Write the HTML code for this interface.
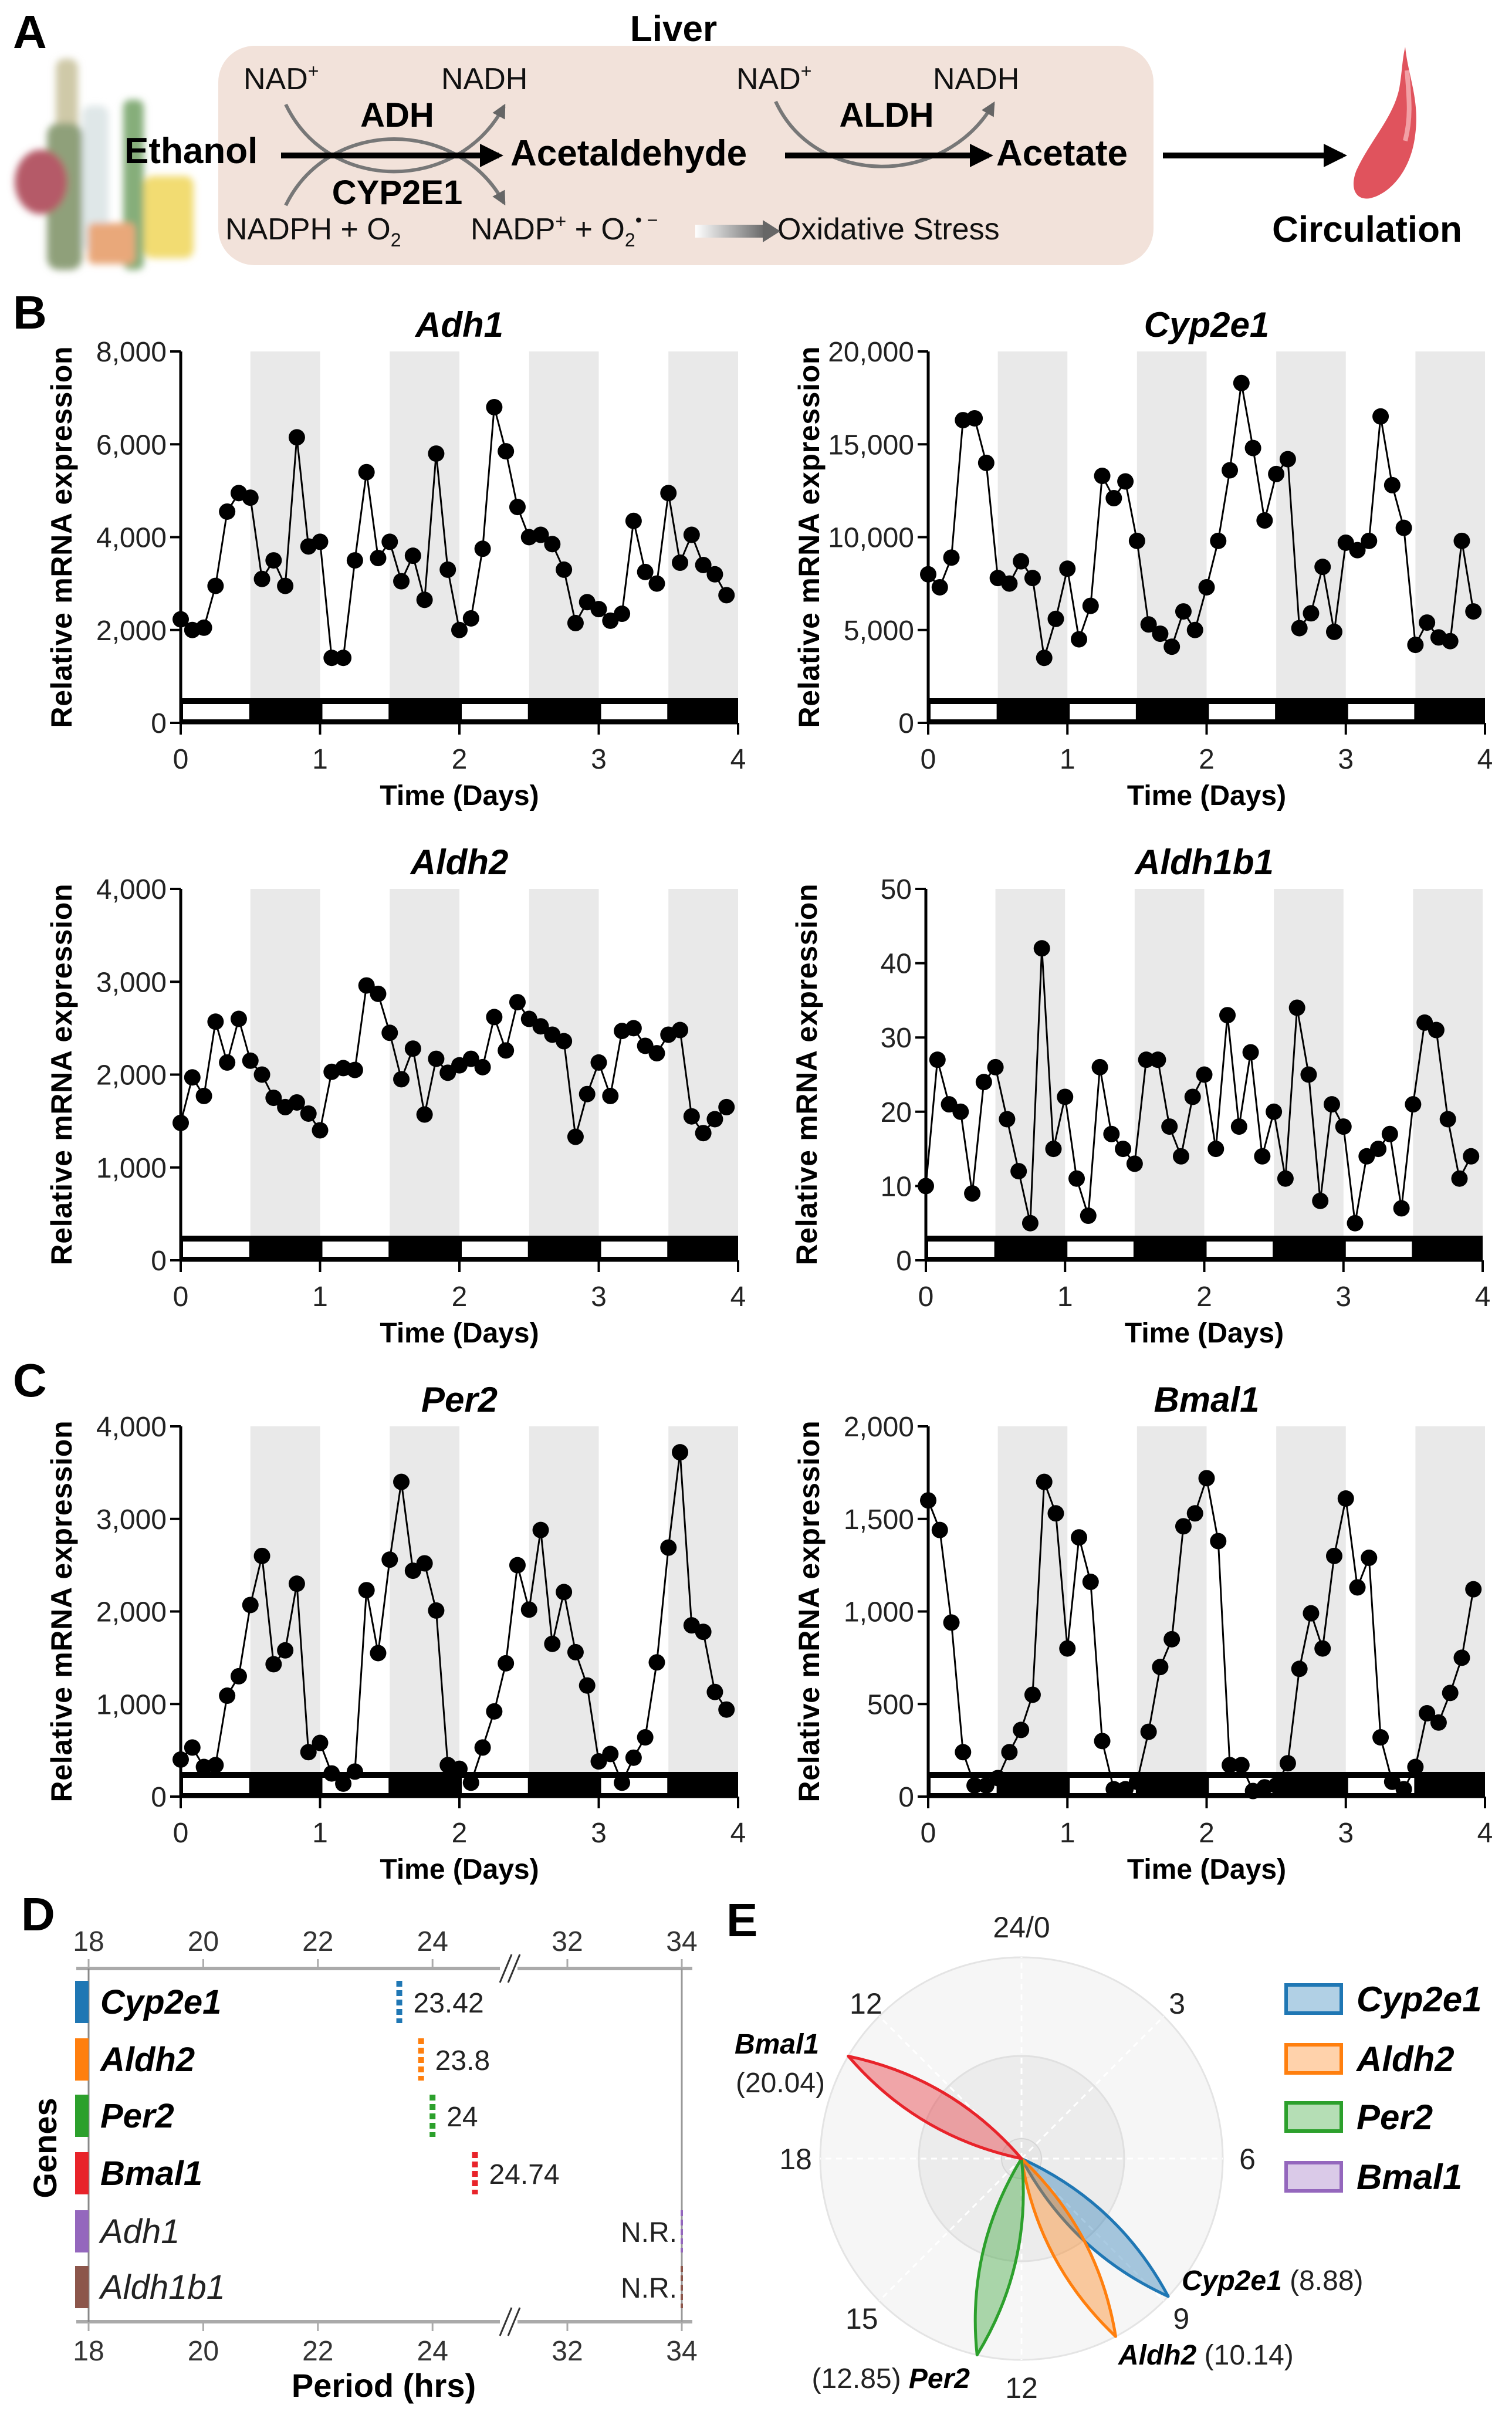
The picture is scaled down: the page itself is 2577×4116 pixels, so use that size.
<!DOCTYPE html>
<html><head><meta charset="utf-8"><style>
html,body{margin:0;padding:0;background:#fff;}
svg{display:block;font-family:"Liberation Sans",Arial,sans-serif;}
</style></head><body>
<svg id="fig" xmlns="http://www.w3.org/2000/svg" width="2577" height="4116" viewBox="0 0 2577 4116">
<defs>
<linearGradient id="gArr" x1="0" x2="1"><stop offset="0" stop-color="#fff"/><stop offset="1" stop-color="#666"/></linearGradient>
<filter id="blur"><feGaussianBlur stdDeviation="6"/></filter>
<marker id="ah" viewBox="0 0 10 10" refX="8" refY="5" markerWidth="4" markerHeight="4" orient="auto"><path d="M0,0 L10,5 L0,10 z" fill="#000"/></marker>
<marker id="ahg" viewBox="0 0 10 10" refX="8" refY="5" markerWidth="4" markerHeight="4" orient="auto"><path d="M0,0 L10,5 L0,10 z" fill="#666"/></marker>
</defs>

<!-- Panel A -->
<g>
<text x="22" y="82" font-size="80" font-weight="bold">A</text>
<g filter="url(#blur)">
<rect x="95" y="100" width="38" height="300" rx="15" fill="#cfc9a8"/>
<rect x="80" y="210" width="60" height="250" rx="20" fill="#8fa07a"/>
<rect x="140" y="180" width="45" height="250" rx="15" fill="#dfe7e8"/>
<rect x="210" y="170" width="35" height="290" rx="12" fill="#86ae7a"/>
<ellipse cx="70" cy="310" rx="45" ry="55" fill="#b55a68"/>
<rect x="245" y="300" width="85" height="140" rx="15" fill="#f2dc72"/>
<rect x="150" y="380" width="80" height="70" rx="10" fill="#e9a87a"/>
</g>
<rect x="372" y="78" width="1594" height="374" rx="62" fill="#f2e2da"/>
<text x="1148" y="70" font-size="62" font-weight="bold" text-anchor="middle">Liver</text>
<g font-size="52" fill="#111">
<text x="415" y="152">NAD<tspan font-size="32" dy="-20">+</tspan></text>
<text x="752" y="152">NADH</text>
<text x="1255" y="152">NAD<tspan font-size="32" dy="-20">+</tspan></text>
<text x="1590" y="152">NADH</text>
<text x="384" y="408">NADPH + O<tspan font-size="32" dy="12">2</tspan></text>
<text x="802" y="408">NADP<tspan font-size="32" dy="-20">+</tspan><tspan dy="20"> + O</tspan><tspan font-size="32" dy="12">2</tspan><tspan font-size="32" dy="-34">• −</tspan></text>
<text x="1325" y="408">Oxidative Stress</text>
</g>
<rect x="1185" y="383" width="120" height="22" fill="url(#gArr)"/>
<path d="M1300,375 L1330,394 L1300,413 z" fill="#666"/>
<path d="M487,178 C560,330 780,330 859,181" fill="none" stroke="#777" stroke-width="6" marker-end="url(#ahg)"/>
<path d="M487,350 C560,200 780,200 859,346" fill="none" stroke="#777" stroke-width="6" marker-end="url(#ahg)"/>
<path d="M1322,173 C1390,320 1610,320 1693,177" fill="none" stroke="#777" stroke-width="6" marker-end="url(#ahg)"/>
<line x1="479" y1="265" x2="850" y2="265" stroke="#000" stroke-width="10" marker-end="url(#ah)"/>
<line x1="1338" y1="265" x2="1685" y2="265" stroke="#000" stroke-width="10" marker-end="url(#ah)"/>
<line x1="1982" y1="265" x2="2288" y2="265" stroke="#000" stroke-width="10" marker-end="url(#ah)"/>
<g font-weight="bold" font-size="62">
<text x="212" y="278">Ethanol</text>
<text x="870" y="282">Acetaldehyde</text>
<text x="1698" y="282">Acetate</text>
<text x="677" y="216" text-anchor="middle" font-size="58">ADH</text>
<text x="1511" y="216" text-anchor="middle" font-size="58">ALDH</text>
<text x="677" y="348" text-anchor="middle" font-size="58">CYP2E1</text>
<text x="2330" y="412" text-anchor="middle">Circulation</text>
</g>
<path d="M2395,80 C2400,130 2420,170 2412,230 C2405,290 2370,330 2335,338 C2310,342 2300,320 2312,290 C2335,240 2375,200 2385,150 C2390,120 2390,100 2395,80 z" fill="#e0535d"/>
<path d="M2398,120 C2402,170 2405,200 2395,240" fill="none" stroke="#f2a0a5" stroke-width="8"/>
</g>

<g id="charts"></g>

<!-- Panel D -->
<g id="panelD"></g>
<!-- Panel E -->
<g id="panelE"></g>
</svg>
<script>
// ---------- time-series data (values every 2 h over 4 days) ----------
const sampleHours = [0,2,4,6,8,10,12,14,16,18,20,22,24,26,28,30,32,34,36,38,40,42,44,46,48,50,52,54,56,58,60,62,64,66,68,70,72,74,76,78,80,82,84,86,88,90,92,94];
const dayTicks = [0,1,2,3,4];
const adh1Values = [2230,2000,2050,2950,4550,4950,4850,3100,3500,2950,6150,3800,3900,1400,1400,3500,5400,3550,3900,3050,3600,2650,5800,3300,2000,2250,3750,6800,5850,4650,4000,4050,3850,3300,2150,2600,2450,2200,2350,4350,3250,3000,4950,3450,4050,3400,3200,2750];
const adh1Ticks = [0,2000,4000,6000,8000];
const cyp2e1Values = [8000,7300,8900,16300,16400,14000,7800,7500,8700,7800,3500,5600,8300,4500,6300,13300,12100,13000,9800,5300,4800,4100,6000,5000,7300,9800,13600,18300,14800,10900,13400,14200,5100,5900,8400,4900,9700,9300,9800,16500,12800,10500,4200,5400,4600,4400,9800,6000];
const cyp2e1Ticks = [0,5000,10000,15000,20000];
const aldh2Values = [1480,1970,1770,2570,2130,2600,2150,2000,1750,1650,1700,1580,1400,2030,2070,2050,2960,2870,2450,1950,2280,1570,2170,2020,2100,2170,2080,2620,2260,2780,2600,2520,2430,2360,1330,1790,2130,1770,2470,2500,2310,2230,2430,2480,1550,1370,1520,1650];
const aldh2Ticks = [0,1000,2000,3000,4000];
const aldh1b1Values = [10,27,21,20,9,24,26,19,12,5,42,15,22,11,6,26,17,15,13,27,27,18,14,22,25,15,33,18,28,14,20,11,34,25,8,21,18,5,14,15,17,7,21,32,31,19,11,14];
const aldh1b1Ticks = [0,10,20,30,40,50];
const per2Values = [400,530,320,340,1090,1300,2070,2600,1430,1580,2300,480,580,250,140,270,2230,1550,2560,3400,2440,2520,2010,340,300,150,530,920,1440,2500,2020,2880,1650,2210,1560,1200,380,460,150,420,640,1450,2690,3720,1850,1780,1130,940];
const per2Ticks = [0,1000,2000,3000,4000];
const bmal1Values = [1600,1440,940,240,60,60,100,240,360,550,1700,1530,800,1400,1160,300,40,40,80,350,700,850,1460,1530,1720,1380,170,170,30,50,60,180,690,990,800,1300,1610,1130,1290,320,80,40,160,450,400,560,750,1120];
const bmal1Ticks = [0,500,1000,1500,2000];

const NS = "http://www.w3.org/2000/svg";
function mk(tag, attrs, parent){ const e=document.createElementNS(NS,tag); for(const k in attrs) e.setAttribute(k,attrs[k]); if(parent) parent.appendChild(e); return e; }
function fmt(v){ return v.toLocaleString('en-US'); }

function drawChart(cfg){
  const g = mk('g',{}, document.getElementById('charts'));
  
  
  const {x0,x4,yT,y0,ymax} = cfg;
  const xs = d => x0 + (d/4)*(x4-x0);
  const ys = v => y0 - (v/ymax)*(y0-yT);
  // night bands
  for (let d=0; d<4; d++){
    const band = mk('rect',{x:xs(d+0.5), y:yT, width:xs(d+1)-xs(d+0.5), height:(y0-40)-yT, fill:'#e9e9e9'}, g);
    
    
  }
  // LD bar
  const ld = mk('rect',{x:x0, y:y0-42, width:x4-x0, height:42, fill:'#000'}, g);
  
  
  for (let d=0; d<4; d++){
    mk('rect',{x:xs(d)+4, y:y0-32, width:xs(d+0.5)-xs(d)-6, height:26, fill:'#fff'}, g);
  }
  // axes
  mk('line',{x1:x0,y1:yT,x2:x0,y2:y0,stroke:'#000','stroke-width':5}, g);
  mk('line',{x1:x0,y1:y0,x2:x4,y2:y0,stroke:'#000','stroke-width':5}, g);
  cfg.ticks.forEach(t=>{
    mk('line',{x1:x0-18,y1:ys(t),x2:x0,y2:ys(t),stroke:'#000','stroke-width':4}, g);
    const tl = mk('text',{x:x0-24,y:ys(t)+17,'font-size':48,'text-anchor':'end',fill:'#222'}, g);
    tl.textContent = fmt(t);
    
    
  });
  dayTicks.forEach(d=>{
    mk('line',{x1:xs(d),y1:y0,x2:xs(d),y2:y0+20,stroke:'#000','stroke-width':4}, g);
    const tl = mk('text',{x:xs(d),y:y0+78,'font-size':48,'text-anchor':'middle',fill:'#222'}, g);
    tl.textContent = d;
    
    
  });
  // line + points
  const pts = cfg.values.map((v,i)=>[xs(sampleHours[i]/24), ys(v)]);
  const pl = mk('polyline',{points:pts.map(p=>p.join(',')).join(' '),fill:'none',stroke:'#000','stroke-width':3}, g);
  
  
  pts.forEach(p=>{
    const c = mk('circle',{cx:p[0],cy:p[1],r:14,fill:'#000'}, g);
    
    
  });
  // labels
  const t = mk('text',{x:(x0+x4)/2,y:yT-25,'font-size':60,'font-weight':'bold','font-style':'italic','text-anchor':'middle'}, g);
  t.textContent = cfg.title;
  
  
  const xl = mk('text',{x:(x0+x4)/2,y:y0+140,'font-size':48,'font-weight':'bold','text-anchor':'middle'}, g);
  xl.textContent = 'Time (Days)';
  
  
  const cy = (yT+y0)/2;
  const yl = mk('text',{x:0,y:0,'font-size':50,'font-weight':'bold','text-anchor':'middle',textLength:650,lengthAdjust:'spacing',transform:`translate(${x0-186},${cy}) rotate(-90)`}, g);
  yl.textContent = 'Relative mRNA expression';
  
  
}
const L0=308, L4=1258, R0=1582, R4=2531;
drawChart({name:'adh1',title:'Adh1',values:adh1Values,ticks:adh1Ticks,ymax:8000,x0:L0,x4:L4,yT:599,y0:1232});
drawChart({name:'cyp2e1',title:'Cyp2e1',values:cyp2e1Values,ticks:cyp2e1Ticks,ymax:20000,x0:R0,x4:R4,yT:599,y0:1232});
drawChart({name:'aldh2',title:'Aldh2',values:aldh2Values,ticks:aldh2Ticks,ymax:4000,x0:L0,x4:L4,yT:1515,y0:2148});
drawChart({name:'aldh1b1',title:'Aldh1b1',values:aldh1b1Values,ticks:aldh1b1Ticks,ymax:50,x0:R0-4,x4:R4-4,yT:1515,y0:2148});
drawChart({name:'per2',title:'Per2',values:per2Values,ticks:per2Ticks,ymax:4000,x0:L0,x4:L4,yT:2431,y0:3062});
drawChart({name:'bmal1',title:'Bmal1',values:bmal1Values,ticks:bmal1Ticks,ymax:2000,x0:R0,x4:R4,yT:2431,y0:3062});
(function(){
  const ch=document.getElementById('charts');
  [['B',560],['C',2380]].forEach(([l,y])=>{
    const t=mk('text',{x:22,y:y,'font-size':80,'font-weight':'bold'},ch);
    t.textContent=l;
    
    
  });
})();

// ---------- Panel D: period estimates ----------
const periodGenes = ['Cyp2e1','Aldh2','Per2','Bmal1','Adh1','Aldh1b1'];
const periodValues = [23.42, 23.8, 24, 24.74, null, null];
const periodLabels = ['23.42','23.8','24','24.74','N.R.','N.R.'];
const periodColors = ['#1f77b4','#ff7f0e','#2ca02c','#e8232a','#9467bd','#8c564b'];
const periodTicks = [18,20,22,24,32,34];
(function(){
  const g=document.getElementById('panelD');
  // broken axis: 18-25 segment, 31-34 segment
  const px = v => v<=25 ? 151 + (v-18)*97.7 : 967 + (v-32)*97.5;
  const top=3355, bot=3957;
  const rowY=[3412,3510,3606,3704,3803,3898];
  const d=mk('text',{x:36,y:3290,'font-size':80,'font-weight':'bold'},g); d.textContent='D';
  
  
  [top,bot].forEach(y=>{
    mk('line',{x1:130,y1:y,x2:1180,y2:y,stroke:'#aaa','stroke-width':6},g);
    periodTicks.forEach(t=>{
      mk('line',{x1:px(t),y1:y,x2:px(t),y2:y+(y===top?-16:16),stroke:'#aaa','stroke-width':3},g);
      const tl=mk('text',{x:px(t),y:y===top?y-30:y+66,'font-size':48,'text-anchor':'middle',fill:'#333'},g);
      tl.textContent=t;
      
      
    });
    mk('rect',{x:852,y:y-22,width:30,height:44,fill:'#fff'},g);
    mk('line',{x1:852,y1:y+24,x2:872,y2:y-24,stroke:'#333','stroke-width':3},g);
    mk('line',{x1:866,y1:y+24,x2:886,y2:y-24,stroke:'#333','stroke-width':3},g);
  });
  mk('line',{x1:151,y1:top,x2:151,y2:bot,stroke:'#888','stroke-width':3},g);
  mk('line',{x1:px(34),y1:top,x2:px(34),y2:bot,stroke:'#999','stroke-width':3},g);
  periodGenes.forEach((gn,i)=>{
    const y=rowY[i];
    const bar=mk('rect',{x:128,y:y-36,width:23,height:72,fill:periodColors[i]},g);
    
    
    const bold = periodValues[i]!==null;
    const lab=mk('text',{x:171,y:y+20,'font-size':58,'font-style':'italic','font-weight':bold?'bold':'normal',fill:bold?'#000':'#222'},g);
    lab.textContent=gn;
    
    
    const x = periodValues[i]!==null ? px(periodValues[i]) : px(34);
    const mkr=mk('line',{x1:x,y1:y-36,x2:x,y2:y+36,stroke:periodColors[i],'stroke-width':periodValues[i]!==null?10:4,'stroke-dasharray':'10,6'},g);
    
    
    const vl=mk('text',{x:periodValues[i]!==null?x+24:x-8,y:y+18,'font-size':48,fill:'#222','text-anchor':periodValues[i]!==null?'start':'end'},g);
    vl.textContent=periodLabels[i];
    
    
  });
  const gl=mk('text',{x:0,y:0,'font-size':56,'font-weight':'bold','text-anchor':'middle',transform:'translate(96,3661) rotate(-90)'},g);
  gl.textContent='Genes';
  
  
  const pl=mk('text',{x:654,y:4085,'font-size':56,'font-weight':'bold','text-anchor':'middle'},g);
  pl.textContent='Period (hrs)';
  
  
})();

// ---------- Panel E: phase polar plot ----------
const phaseGenes = ['Cyp2e1','Aldh2','Per2','Bmal1'];
const phaseHours = [8.88, 10.14, 12.85, 20.04];
const phaseAmps = [1.0, 1.0, 1.0, 1.0];
const phaseColors = ['#1f77b4','#ff7f0e','#2ca02c','#e8232a'];
const legendColors = ['#1f77b4','#ff7f0e','#2ca02c','#9467bd'];
const clockLabels = ['24/0','3','6','9','12','15','18','12'];
(function(){
  const g=document.getElementById('panelE');
  const cx=1741, cy=3679, R=343;
  const e=mk('text',{x:1238,y:3300,'font-size':80,'font-weight':'bold'},g); e.textContent='E';
  
  
  mk('circle',{cx,cy,r:R,fill:'#f6f6f6',stroke:'#e4e4e4','stroke-width':3},g);
  mk('circle',{cx,cy,r:175,fill:'#ececec',stroke:'#e0e0e0','stroke-width':3},g);
  mk('circle',{cx,cy,r:34,fill:'#e6e6e6',stroke:'#d6d6d6','stroke-width':2},g);
  for(let h=0;h<24;h+=3){
    const a=h*15*Math.PI/180;
    mk('line',{x1:cx,y1:cy,x2:cx+R*Math.sin(a),y2:cy-R*Math.cos(a),stroke:'#fff','stroke-width':3,'stroke-dasharray':'10,8'},g);
  }
  const labR=[395,375,385,385,390,385,385,375];
  clockLabels.forEach((l,i)=>{
    const a=i*45*Math.PI/180;
    const t=mk('text',{x:cx+labR[i]*Math.sin(a),y:cy-labR[i]*Math.cos(a)+18,'font-size':50,'text-anchor':'middle',fill:'#222'},g);
    t.textContent=l;
    
    
  });
  phaseGenes.forEach((gn,i)=>{
    const a=phaseHours[i]*15*Math.PI/180;
    const L=R*phaseAmps[i];
    const tx=cx+L*Math.sin(a), ty=cy-L*Math.cos(a);
    const mx=(cx+tx)/2, my=(cy+ty)/2;
    const nx=Math.cos(a), ny=Math.sin(a);
    const w=58;
    const d=`M${cx},${cy} Q${mx+nx*w},${my+ny*w} ${tx},${ty} Q${mx-nx*w},${my-ny*w} ${cx},${cy} Z`;
    const p=mk('path',{d,fill:phaseColors[i],'fill-opacity':0.38,stroke:phaseColors[i],'stroke-width':5,'stroke-linejoin':'round'},g);
    
    
  });
  // annotations
  const ann=[
    {x:1324,y:3500,a:'middle',parts:[['Bmal1',true]]},
    {x:1330,y:3566,a:'middle',parts:[['(20.04)',false]]},
    {x:2014,y:3903,a:'start',parts:[['Cyp2e1',true],[' (8.88)',false]]},
    {x:1906,y:4030,a:'start',parts:[['Aldh2',true],[' (10.14)',false]]},
    {x:1653,y:4070,a:'end',parts:[['(12.85) ',false],['Per2',true]]}
  ];
  ann.forEach(o=>{
    const t=mk('text',{x:o.x,y:o.y,'font-size':48,'text-anchor':o.a,fill:'#222'},g);
    o.parts.forEach(([s,b])=>{ const ts=mk('tspan',b?{'font-weight':'bold','font-style':'italic',fill:'#000'}:{},t); ts.textContent=s; });
    
    
  });
  const legY=[3407,3509,3608,3710];
  phaseGenes.forEach((gn,i)=>{
    const r=mk('rect',{x:2192,y:legY[i]-24,width:94,height:48,fill:legendColors[i],'fill-opacity':0.35,stroke:legendColors[i],'stroke-width':6},g);
    
    
    const t=mk('text',{x:2312,y:legY[i]+21,'font-size':60,'font-weight':'bold','font-style':'italic'},g);
    t.textContent=gn;
    
    
  });
})();
</script>
</body></html>
